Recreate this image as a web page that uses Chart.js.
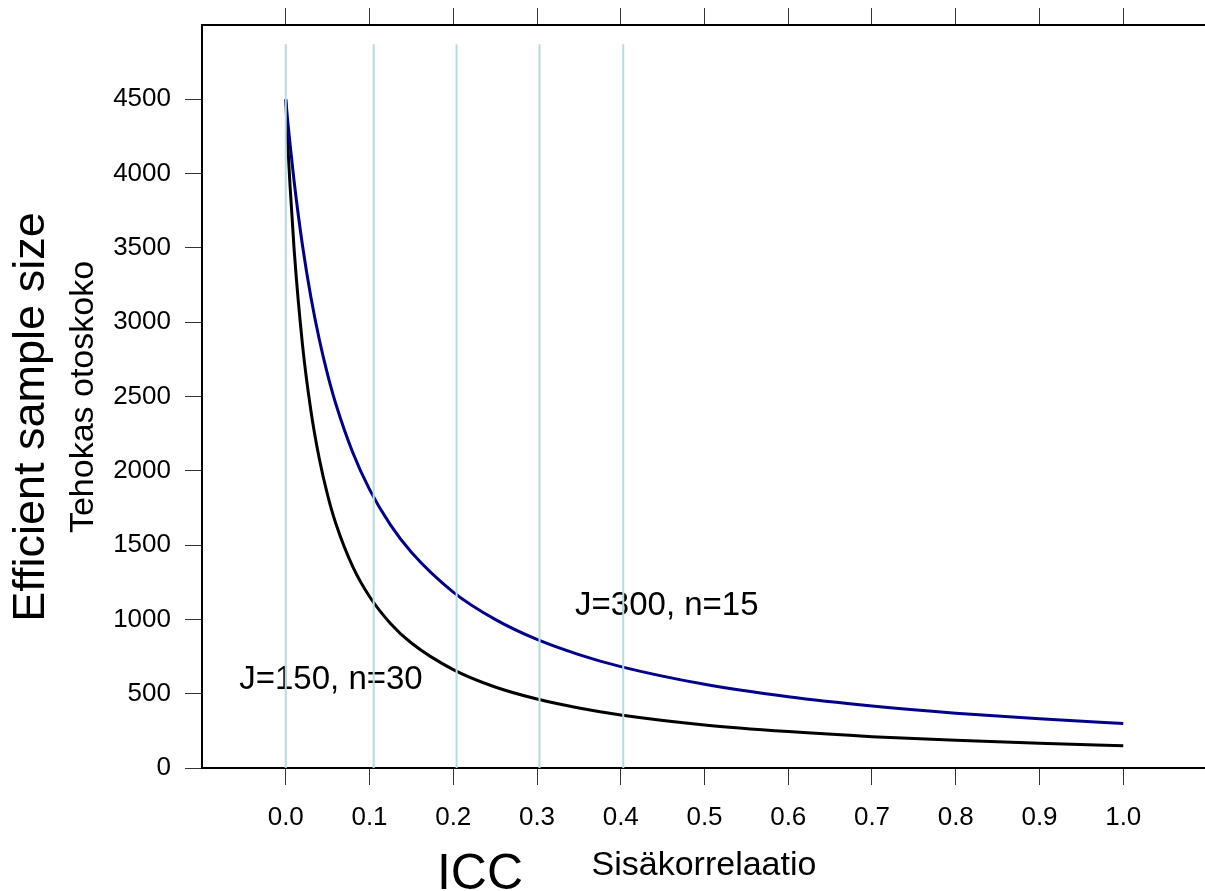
<!DOCTYPE html>
<html><head><meta charset="utf-8">
<script src="https://cdn.jsdelivr.net/npm/chart.js@4"></script>
<style>
html,body{margin:0;padding:0;overflow:hidden;background:#fff;width:1205px;height:891px}
#wrap{width:1205px;height:891px;overflow:hidden;position:relative}
canvas{display:block}
</style></head>
<body><div id="wrap"><canvas id="c" width="1212" height="891"></canvas></div>
<script>
// ---- data ----
const icc      = [0, 0.0025, 0.005, 0.01, 0.02, 0.03, 0.04, 0.05, 0.06, 0.08, 0.1, 0.125, 0.15, 0.2, 0.25, 0.3, 0.35, 0.4, 0.5, 0.6, 0.7, 0.8, 0.9, 1.0];
const essJ150  = [4500, 4189, 3930, 3488, 2848, 2406, 2083, 1837, 1642, 1355, 1154, 973, 841, 662, 545, 464, 404, 357, 290, 245, 211, 186, 166, 150];
const essJ300  = [4500, 4345, 4206, 3947, 3516, 3169, 2885, 2647, 2446, 2123, 1875, 1636, 1452, 1184, 1000, 865, 763, 682, 563, 479, 417, 369, 331, 300];
const refLinesX = [0, 0.105, 0.204, 0.303, 0.403];
const refLineTop = 4870;
const xTicks = [0, 0.1, 0.2, 0.3, 0.4, 0.5, 0.6, 0.7, 0.8, 0.9, 1.0];
const yTicks = [0, 500, 1000, 1500, 2000, 2500, 3000, 3500, 4000, 4500];
const seriesLabels = ['J=150, n=30', 'J=300, n=15'];
const labelAnchorX = [0.054, 0.455];
const labelAnchorY = [590, 1090];

const FONT = '"Liberation Sans", Arial, Helvetica, sans-serif';

const datasets = [];
refLinesX.forEach(x => {
  datasets.push({
    data: [{x: x, y: 0}, {x: x, y: refLineTop}],
    borderColor: '#b4dcdf', borderWidth: 2, pointRadius: 0, order: 0, fill: false
  });
});
datasets.push({
  data: icc.map((x, i) => ({x: x, y: essJ300[i]})),
  borderColor: '#00008b', borderWidth: 3, pointRadius: 0, order: 1,
  cubicInterpolationMode: 'monotone', fill: false
});
datasets.push({
  data: icc.map((x, i) => ({x: x, y: essJ150[i]})),
  borderColor: '#000000', borderWidth: 3, pointRadius: 0, order: 2,
  cubicInterpolationMode: 'monotone', fill: false
});

const textPlugin = {
  id: 'texts',
  beforeDatasetsDraw(chart) {
    const ctx = chart.ctx, xs = chart.scales.x, ys = chart.scales.y;
    ctx.save();
    ctx.fillStyle = '#000';
    ctx.font = '33px ' + FONT;
    ctx.textAlign = 'center';
    ctx.textBaseline = 'middle';
    seriesLabels.forEach((t, i) => {
      ctx.fillText(t, xs.getPixelForValue(labelAnchorX[i]), ys.getPixelForValue(labelAnchorY[i]));
    });
    ctx.restore();
  },
  afterDraw(chart) {
    const ctx = chart.ctx;
    ctx.save();
    ctx.fillStyle = '#000';
    ctx.textAlign = 'center';
    ctx.textBaseline = 'alphabetic';
    ctx.font = '50px ' + FONT;
    ctx.fillText('ICC', 480, 889);
    ctx.font = '34px ' + FONT;
    ctx.fillText('Sisäkorrelaatio', 704, 875);
    ctx.save();
    ctx.translate(44, 417);
    ctx.rotate(-Math.PI / 2);
    ctx.font = '45px ' + FONT;
    ctx.fillText('Efficient sample size', 0, 0);
    ctx.restore();
    ctx.save();
    ctx.translate(93, 397);
    ctx.rotate(-Math.PI / 2);
    ctx.font = '34px ' + FONT;
    ctx.fillText('Tehokas otoskoko', 0, 0);
    ctx.restore();
    ctx.restore();
  }
};

const tickGrid = {drawOnChartArea: false, drawTicks: true, tickLength: 17, color: '#333', lineWidth: 1};
const axisBorder = {display: true, color: '#000', width: 2};

new Chart(document.getElementById('c'), {
  type: 'line',
  data: {datasets: datasets},
  plugins: [textPlugin],
  options: {
    responsive: false,
    animation: false,
    layout: {padding: {left: 0, right: 5, top: 0, bottom: 0}},
    plugins: {legend: {display: false}, tooltip: {enabled: false}},
    elements: {line: {tension: 0}},
    scales: {
      x: {
        type: 'linear', position: 'bottom', min: -0.1, max: 1.1,
        grid: tickGrid, border: axisBorder,
        afterBuildTicks: s => { s.ticks = xTicks.map(v => ({value: v})); },
        afterFit: s => { s.height = 123; s.paddingLeft = 0; s.paddingRight = 0; },
        ticks: {
          color: '#000', padding: 17, maxRotation: 0, autoSkip: false,
          font: {family: FONT, size: 26},
          callback: v => Number(v).toFixed(1)
        }
      },
      xTop: {
        type: 'linear', position: 'top', min: -0.1, max: 1.1,
        grid: tickGrid, border: axisBorder,
        afterBuildTicks: s => { s.ticks = xTicks.map(v => ({value: v})); },
        afterFit: s => { s.height = 25; s.paddingLeft = 0; s.paddingRight = 0; },
        ticks: {display: false}
      },
      y: {
        type: 'linear', position: 'left', min: 0, max: 5000,
        grid: tickGrid, border: axisBorder,
        afterBuildTicks: s => { s.ticks = yTicks.map(v => ({value: v})); },
        afterFit: s => { s.width = 202; s.paddingTop = 0; s.paddingBottom = 0; },
        ticks: {
          color: '#000', padding: 14, autoSkip: false,
          font: {family: FONT, size: 26},
          callback: v => String(v)
        }
      }
    }
  }
});
</script>
</body></html>
